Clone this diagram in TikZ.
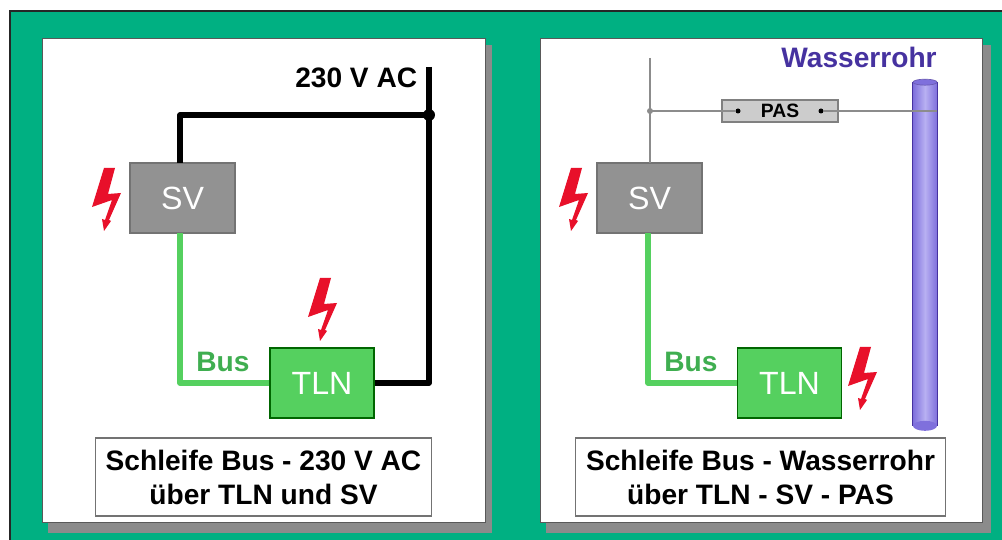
\documentclass[tikz,border=0pt]{standalone}
\usepackage{fontspec}
\setsansfont{Liberation Sans}
\definecolor{frame}{HTML}{00B082}
\definecolor{busgreen}{HTML}{55D05F}
\definecolor{buslabel}{HTML}{3FAE50}
\definecolor{boxgray}{HTML}{929292}
\definecolor{rohrblue}{HTML}{4632A0}
\definecolor{rohrmid}{HTML}{7F70DC}
\definecolor{rohrhell}{HTML}{B8B0F2}
\definecolor{boltred}{HTML}{E8102A}
\tikzset{
	bolt/.pic={
		\fill[boltred] (24,18) -- (35,18) -- (28,44) -- (41,43) -- (29,70) -- (31,71) -- (24,81) -- (22,69) -- (25,70) -- (32,50) -- (12,57) -- cycle;
	},
}
\begin{document}
\begin{tikzpicture}[
		x=0.02cm, y=-0.02cm,
		font=\sffamily,
		panel/.style={fill=white, draw=black!65, line width=0.5pt},
		shadowbar/.style={fill=boxgray!95!black},
		svbox/.style={draw=black!55, line width=0.6pt, fill=boxgray, text=white, minimum width=2.1cm, minimum height=1.4cm, inner sep=0pt, font=\sffamily\fontsize{18.3}{20}\selectfont},
		tlnbox/.style={draw=black!60!green, line width=0.6pt, fill=busgreen, text=white, minimum width=2.08cm, minimum height=1.4cm, inner sep=0pt, font=\sffamily\fontsize{18.3}{20}\selectfont},
		caption/.style={draw=black!55, line width=0.6pt, fill=white, align=center, minimum height=1.56cm, inner sep=0pt, font=\sffamily\bfseries\fontsize{16}{19.4}\selectfont},
		label/.style={inner sep=0pt, font=\sffamily\bfseries\fontsize{16}{19}\selectfont},
		mains/.style={line width=3pt, line join=round, black},
		bus/.style={line width=3pt, line join=round, busgreen},
		earth/.style={line width=1.7pt, black!45},
	]
	\path[use as bounding box] (0,0) rectangle (1002,540);
	\fill[frame] (10,11) rectangle (1002,540);
	\draw[line width=1.4pt, black!85] (10,540) -- (10,11) -- (1002,11);
	\fill[shadowbar] (48,45) rectangle (492,533);
	\fill[shadowbar] (546,45) rectangle (991,533);
	\draw[panel] (42,38) rectangle (485,522);
	\draw[panel] (540,38) rectangle (982,522);

	% left panel
	\node[svbox] (svl) at (182.5,198) {SV};
	\node[tlnbox] (tlnl) at (322,383) {TLN};
	\coordinate (netzl) at (429,67);
	\coordinate (abzwl) at (429,115);
	\coordinate (svlin) at (180,163);
	\coordinate (svlout) at (180,233);
	\draw[mains] (netzl) -- (abzwl) |- (tlnl.east);
	\draw[mains] (svlin) |- (abzwl);
	\fill (abzwl) circle (6);
	\draw[bus] (svlout) |- (tlnl.west);
	\node[label, anchor=east] (netztext) at (417.5,78) {230 V AC};
	\node[label, text=buslabel] (busl) at (223,362) {Bus};
	\node[caption, minimum width=6.74cm] (capl) at (263.5,477) {Schleife Bus - 230 V AC\\über TLN und SV};
	\pic at (80,150) {bolt};
	\pic at (296,260) {bolt};

	% right panel
	\node[svbox] (svr) at (649.5,198) {SV};
	\node[tlnbox] (tlnr) at (789.5,383) {TLN};
	\node[draw=black!50, line width=0.6pt, fill=black!20, minimum width=2.32cm, minimum height=0.44cm, inner sep=0pt, font=\sffamily\bfseries\fontsize{11}{12}\selectfont] (pas) at (780,111) {PAS};
	\node[fill=black, circle, inner sep=0pt, minimum size=0.1cm] (pasa) at (738,111) {};
	\node[fill=black, circle, inner sep=0pt, minimum size=0.1cm] (pasb) at (821,111) {};
	\node[minimum width=0.48cm, minimum height=6.86cm, inner sep=0pt, left color=rohrmid, right color=rohrmid, middle color=rohrhell] (rohr) at (925,254) {};
	\draw[rohrblue, line width=0.6pt] (rohr.north west) -- (rohr.south west) (rohr.north east) -- (rohr.south east);
	\fill[rohrmid, draw=rohrblue!80, line width=0.4pt] (rohr.north) ellipse (12 and 3);
	\fill[rohrmid] (rohr.south) ellipse (12 and 5);
	\coordinate (netzr) at (650,58);
	\coordinate (svrin) at (650,163);
	\coordinate (abzwr) at (650,111);
	\coordinate (svrout) at (648,233);
	\draw[earth] (netzr) -- (svrin);
	\draw[earth] (abzwr) -- (pas.west);
	\draw[earth] (pas.west) -- (pasa);
	\draw[earth] (pas.east) -- (pasb);
	\draw[earth] (pas.east) -- (rohr.east |- pas.east);
	\fill[black!45] (abzwr) circle (3);
	\draw[bus] (svrout) |- (tlnr.west);
	\node[label, text=rohrblue, anchor=east] (rohrtext) at (937,57) {Wasserrohr};
	\node[label, text=buslabel] (busr) at (691,362) {Bus};
	\node[caption, minimum width=7.42cm] (capr) at (760.5,477) {Schleife Bus - Wasserrohr\\über TLN - SV - PAS};
	\pic at (547,150) {bolt};
	\pic at (836,329) {bolt};
\end{tikzpicture}
\end{document}
